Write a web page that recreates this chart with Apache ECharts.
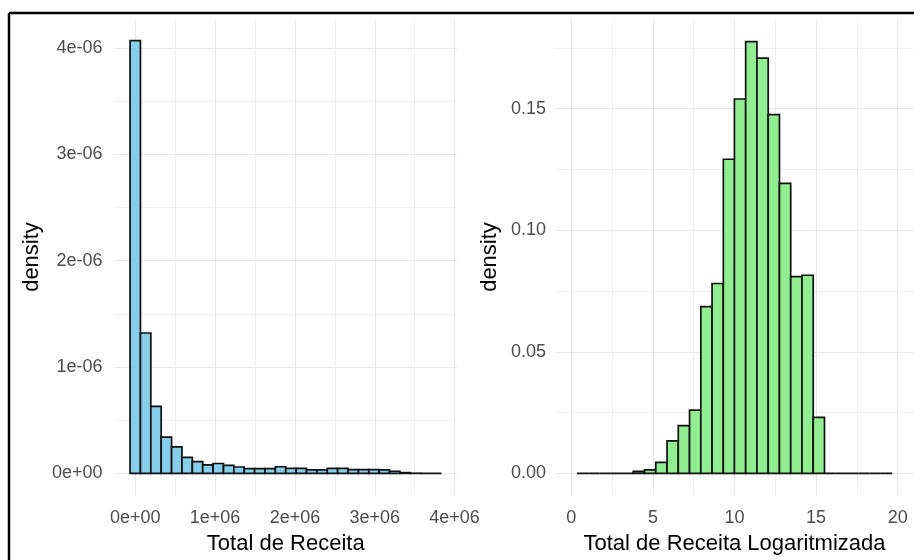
<!DOCTYPE html>
<html>
<head>
<meta charset="utf-8">
<script src="https://cdn.jsdelivr.net/npm/echarts@6/dist/echarts.min.js"></script>
<style>
  html, body { margin: 0; padding: 0; background: #fff; }
  #chart { width: 914px; height: 560px; }
</style>
</head>
<body>
<div id="chart"></div>
<script>
// Histogram of total revenue (30 bins, width 130 000)
const receitaCentros = [0, 130000, 260000, 390000, 520000, 650000, 780000, 910000, 1040000, 1170000,
  1300000, 1430000, 1560000, 1690000, 1820000, 1950000, 2080000, 2210000, 2340000, 2470000,
  2600000, 2730000, 2860000, 2990000, 3120000, 3250000, 3380000, 3510000, 3640000, 3770000];
const receitaLargura = 130000;
const receitaDensidade = [4.07e-6, 1.32e-6, 0.63e-6, 0.34e-6, 0.25e-6, 0.15e-6, 0.11e-6, 0.08e-6, 0.093e-6, 0.075e-6,
  0.06e-6, 0.045e-6, 0.045e-6, 0.045e-6, 0.062e-6, 0.047e-6, 0.047e-6, 0.032e-6, 0.032e-6, 0.047e-6,
  0.047e-6, 0.035e-6, 0.035e-6, 0.035e-6, 0.033e-6, 0.02e-6, 0.007e-6, 0.001e-6, 0, 0];

// Histogram of log revenue (bins of width 20/29 inside limits 0..20)
const logCentros = [0.69, 1.38, 2.07, 2.76, 3.45, 4.14, 4.83, 5.52, 6.21, 6.90, 7.59, 8.28, 8.97, 9.66,
  10.34, 11.03, 11.72, 12.41, 13.10, 13.79, 14.48, 15.17, 15.86, 16.55, 17.24, 17.93, 18.62, 19.31];
const logLargura = 20 / 29;
const logDensidade = [0, 0, 0, 0, 0, 0.0008, 0.0014, 0.0045, 0.0134, 0.0196, 0.026, 0.0686, 0.0781, 0.1292,
  0.154, 0.1776, 0.1708, 0.1476, 0.1193, 0.0809, 0.0815, 0.023, 0, 0, 0, 0, 0, 0];

// Axis breaks and labels
const receitaXBreaks = [0, 1e6, 2e6, 3e6, 4e6];
const receitaXLabels = ['0e+00', '1e+06', '2e+06', '3e+06', '4e+06'];
const receitaXMinor = [0.5e6, 1.5e6, 2.5e6, 3.5e6];
const receitaYBreaks = [0, 1e-6, 2e-6, 3e-6, 4e-6];
const receitaYLabels = ['0e+00', '1e-06', '2e-06', '3e-06', '4e-06'];
const receitaYMinor = [0.5e-6, 1.5e-6, 2.5e-6, 3.5e-6];

const logXBreaks = [0, 5, 10, 15, 20];
const logXLabels = ['0', '5', '10', '15', '20'];
const logXMinor = [2.5, 7.5, 12.5, 17.5];
const logYBreaks = [0, 0.05, 0.10, 0.15];
const logYLabels = ['0.00', '0.05', '0.10', '0.15'];
const logYMinor = [0.025, 0.075, 0.125, 0.175];

const FONT = '"Liberation Sans", Arial, sans-serif';
const GRID_COLOR = '#E8E8E8';

function gridLines(axisKey, breaks, labels, minor, labelDist) {
  const items = [];
  breaks.forEach((v, i) => {
    items.push({
      [axisKey]: v,
      lineStyle: { color: GRID_COLOR, width: 1.2, type: 'solid' },
      label: {
        show: true, position: 'start', formatter: labels[i], distance: labelDist,
        color: '#4D4D4D', fontSize: 18, fontFamily: FONT
      }
    });
  });
  minor.forEach(v => {
    items.push({
      [axisKey]: v,
      lineStyle: { color: '#F0F0F0', width: 1, type: 'solid' },
      label: { show: false }
    });
  });
  return items;
}

function histRenderer(width, fill) {
  return function (params, api) {
    const c = api.value(0);
    const d = api.value(1);
    const p0 = api.coord([c - width / 2, d]);
    const p1 = api.coord([c + width / 2, 0]);
    return {
      type: 'rect',
      shape: { x: p0[0], y: p0[1], width: p1[0] - p0[0], height: p1[1] - p0[1] },
      style: { fill: fill, stroke: '#111', lineWidth: 1.7 }
    };
  };
}

function hiddenAxis(extra) {
  return Object.assign({
    type: 'value',
    axisLine: { show: false },
    axisTick: { show: false },
    axisLabel: { show: false },
    splitLine: { show: false },
    nameLocation: 'middle',
    nameTextStyle: { fontSize: 22, color: '#000', fontFamily: FONT }
  }, extra);
}

function gridLayer(xi, yi, items) {
  return {
    type: 'line', xAxisIndex: xi, yAxisIndex: yi, data: [], z: 1, silent: true,
    markLine: {
      silent: true, symbol: ['none', 'none'], animation: false, z: 1,
      precision: 12,
      emphasis: { disabled: true },
      data: items
    }
  };
}

const chart = echarts.init(document.getElementById('chart'), null, { renderer: 'canvas' });

chart.setOption({
  animation: false,
  backgroundColor: '#fff',
  grid: [
    { left: 114.5, right: 914 - 457, top: 19, bottom: 62 },
    { left: 555, right: -4.5, top: 19, bottom: 62 }
  ],
  xAxis: [
    hiddenAxis({ gridIndex: 0, min: -260000, max: 4030000, name: 'Total de Receita', nameGap: 38 }),
    hiddenAxis({ gridIndex: 1, min: -1, max: 21, name: 'Total de Receita Logaritmizada', nameGap: 38 })
  ],
  yAxis: [
    hiddenAxis({ gridIndex: 0, min: -0.2035e-6, max: 4.2735e-6, name: 'density', nameGap: 72 }),
    hiddenAxis({ gridIndex: 1, min: -0.0089, max: 0.1869, name: 'density', nameGap: 54 })
  ],
  series: [
    gridLayer(0, 0, gridLines('yAxis', receitaYBreaks, receitaYLabels, receitaYMinor, 12)
      .concat(gridLines('xAxis', receitaXBreaks, receitaXLabels, receitaXMinor, 14))),
    {
      type: 'custom', xAxisIndex: 0, yAxisIndex: 0, z: 3, silent: true,
      renderItem: histRenderer(receitaLargura, '#87CEEB'),
      data: receitaCentros.map((c, i) => [c, receitaDensidade[i]])
    },
    gridLayer(1, 1, gridLines('yAxis', logYBreaks, logYLabels, logYMinor, 9)
      .concat(gridLines('xAxis', logXBreaks, logXLabels, logXMinor, 14))),
    {
      type: 'custom', xAxisIndex: 1, yAxisIndex: 1, z: 3, silent: true,
      renderItem: histRenderer(logLargura, '#90EE90'),
      data: logCentros.map((c, i) => [c, logDensidade[i]])
    }
  ],
  graphic: [
    { type: 'line', z: 10, shape: { x1: 9, y1: 13, x2: 914, y2: 13 }, style: { stroke: '#000', lineWidth: 2.5 } },
    { type: 'line', z: 10, shape: { x1: 9, y1: 13, x2: 9, y2: 560 }, style: { stroke: '#000', lineWidth: 2.5 } }
  ]
});
</script>
</body>
</html>
